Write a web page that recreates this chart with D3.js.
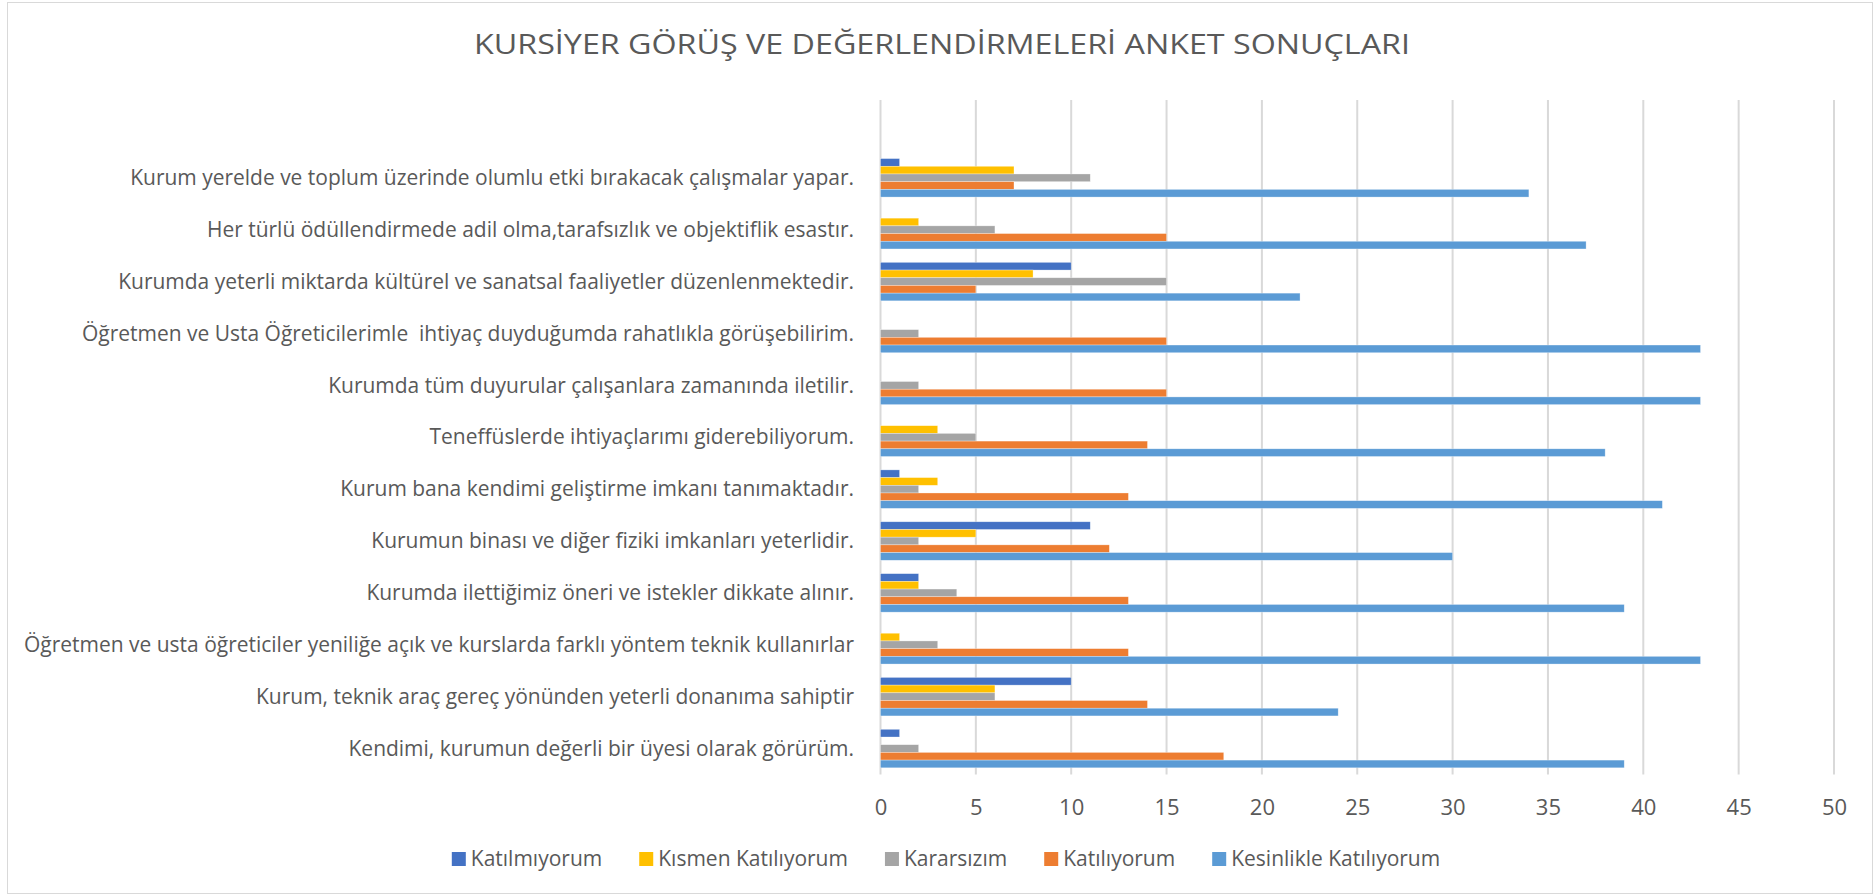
<!DOCTYPE html>
<html>
<head>
<meta charset="utf-8">
<script src="https://cdn.jsdelivr.net/npm/d3@7"></script>
<style>
  html, body { margin: 0; padding: 0; background: #fff; }
  text { font-family: "Open Sans", sans-serif; fill: #595959; white-space: pre; }
</style>
</head>
<body>
<svg id="chart" width="1876" height="896"></svg>
<script>
// categories, top to bottom as drawn
var categories = [
  "Kurum yerelde ve toplum üzerinde olumlu etki bırakacak çalışmalar yapar.",
  "Her türlü ödüllendirmede adil olma,tarafsızlık ve objektiflik esastır.",
  "Kurumda yeterli miktarda kültürel ve sanatsal faaliyetler düzenlenmektedir.",
  "Öğretmen ve Usta Öğreticilerimle  ihtiyaç duyduğumda rahatlıkla görüşebilirim.",
  "Kurumda tüm duyurular çalışanlara zamanında iletilir.",
  "Teneffüslerde ihtiyaçlarımı giderebiliyorum.",
  "Kurum bana kendimi geliştirme imkanı tanımaktadır.",
  "Kurumun binası ve diğer fiziki imkanları yeterlidir.",
  "Kurumda ilettiğimiz öneri ve istekler dikkate alınır.",
  "Öğretmen ve usta öğreticiler yeniliğe açık ve kurslarda farklı yöntem teknik kullanırlar",
  "Kurum, teknik araç gereç yönünden yeterli donanıma sahiptir",
  "Kendimi, kurumun değerli bir üyesi olarak görürüm."
];

var seriesNames = ["Katılmıyorum", "Kısmen Katılıyorum", "Kararsızım", "Katılıyorum", "Kesinlikle Katılıyorum"];
var seriesColors = ["#4472C4", "#FFC000", "#A5A5A5", "#ED7D31", "#5B9BD5"];

var katilmiyorum = [1, 0, 10, 0, 0, 0, 1, 11, 2, 0, 10, 1];
var kismen       = [7, 2, 8, 0, 0, 3, 3, 5, 2, 1, 6, 0];
var kararsizim   = [11, 6, 15, 2, 2, 5, 2, 2, 4, 3, 6, 2];
var katiliyorum  = [7, 15, 5, 15, 15, 14, 13, 12, 13, 13, 14, 18];
var kesinlikle   = [34, 37, 22, 43, 43, 38, 41, 30, 39, 43, 24, 39];

var xTicks = [0, 5, 10, 15, 20, 25, 30, 35, 40, 45, 50];

var seriesValues = [katilmiyorum, kismen, kararsizim, katiliyorum, kesinlikle];

var svg = d3.select("#chart");

// chart area border
svg.append("rect")
  .attr("x", 7.5).attr("y", 2.5)
  .attr("width", 1865).attr("height", 891)
  .attr("fill", "#fff")
  .attr("stroke", "#d9d9d9")
  .attr("stroke-width", 1);

var plot = { left: 880.5, right: 1834, top: 100, bottom: 774.5 };

var x = d3.scaleLinear().domain([0, 50]).range([plot.left, plot.right]);

// leading blank slot: the plot keeps an empty row above the first category
var y0 = d3.scaleBand()
  .domain(["__blank__"].concat(categories))
  .range([plot.top, plot.bottom])
  .paddingInner(0.258)
  .paddingOuter(0.129);

var y1 = d3.scaleBand()
  .domain(seriesNames)
  .range([0, y0.bandwidth()]);

// gridlines
svg.append("g")
  .selectAll("line")
  .data(xTicks)
  .enter()
  .append("line")
  .attr("x1", function(d) { return x(d); })
  .attr("x2", function(d) { return x(d); })
  .attr("y1", plot.top)
  .attr("y2", plot.bottom)
  .attr("stroke", "#d9d9d9")
  .attr("stroke-width", 2);

// bars
var groups = svg.append("g")
  .selectAll("g")
  .data(categories)
  .enter()
  .append("g")
  .attr("transform", function(d) { return "translate(0," + y0(d) + ")"; });

groups.selectAll("rect")
  .data(function(d, i) {
    return seriesNames.map(function(s, j) {
      return { series: s, value: seriesValues[j][i], color: seriesColors[j] };
    });
  })
  .enter()
  .filter(function(d) { return d.value > 0; })
  .append("rect")
  .attr("x", x(0))
  .attr("y", function(d) { return y1(d.series); })
  .attr("width", function(d) { return x(d.value) - x(0); })
  .attr("height", y1.bandwidth())
  .attr("fill", function(d) { return d.color; })
  .attr("stroke", "#fff")
  .attr("stroke-opacity", 0.5)
  .attr("stroke-width", 0.6);

// x axis tick labels
var xAxis = d3.axisBottom(x).tickValues(xTicks).tickSize(0).tickPadding(0);
var xg = svg.append("g")
  .attr("transform", "translate(0," + 815 + ")")
  .call(xAxis);
xg.select(".domain").remove();
xg.selectAll("text")
  .attr("dy", 0)
  .style("font-size", "22px")
  .style("fill", "#595959");

// category labels
var yAxis = d3.axisLeft(y0).tickValues(categories).tickSize(0).tickPadding(0);
var yg = svg.append("g")
  .attr("transform", "translate(" + 854 + ",0)")
  .call(yAxis);
yg.select(".domain").remove();
yg.selectAll("text")
  .style("font-size", "21px")
  .style("fill", "#595959")
  .attr("dy", "0.34em");

// squeeze labels to the narrow face of the original
var longest = d3.max(yg.selectAll("text").nodes(), function(n) { return n.getComputedTextLength(); });
var squeeze = 830 / longest;
yg.selectAll("text").each(function() {
  var w = this.getComputedTextLength();
  d3.select(this).attr("textLength", w * squeeze).attr("lengthAdjust", "spacingAndGlyphs");
});

// title
var title = svg.append("text")
  .attr("x", 942)
  .attr("y", 54)
  .attr("text-anchor", "middle")
  .style("font-size", "27px")
  .text("KURSİYER GÖRÜŞ VE DEĞERLENDİRMELERİ ANKET SONUÇLARI");
title.attr("textLength", 936).attr("lengthAdjust", "spacingAndGlyphs");

// legend
var legend = svg.append("g").attr("class", "legend");
var items = legend.selectAll("g")
  .data(seriesNames)
  .enter()
  .append("g");
items.append("rect")
  .attr("width", 14)
  .attr("height", 14)
  .attr("y", -14)
  .attr("fill", function(d, i) { return seriesColors[i]; });
items.append("text")
  .attr("x", 19)
  .attr("y", 0)
  .style("font-size", "21px")
  .text(function(d) { return d; });

var pos = 0;
items.each(function() {
  var g = d3.select(this);
  var w = g.select("text").node().getComputedTextLength();
  g.attr("transform", "translate(" + pos + ",0)");
  pos += 19 + w + 37;
});
var legendWidth = pos - 37;
legend.attr("transform", "translate(" + (946 - legendWidth / 2) + ",866)");
</script>
</body>
</html>
